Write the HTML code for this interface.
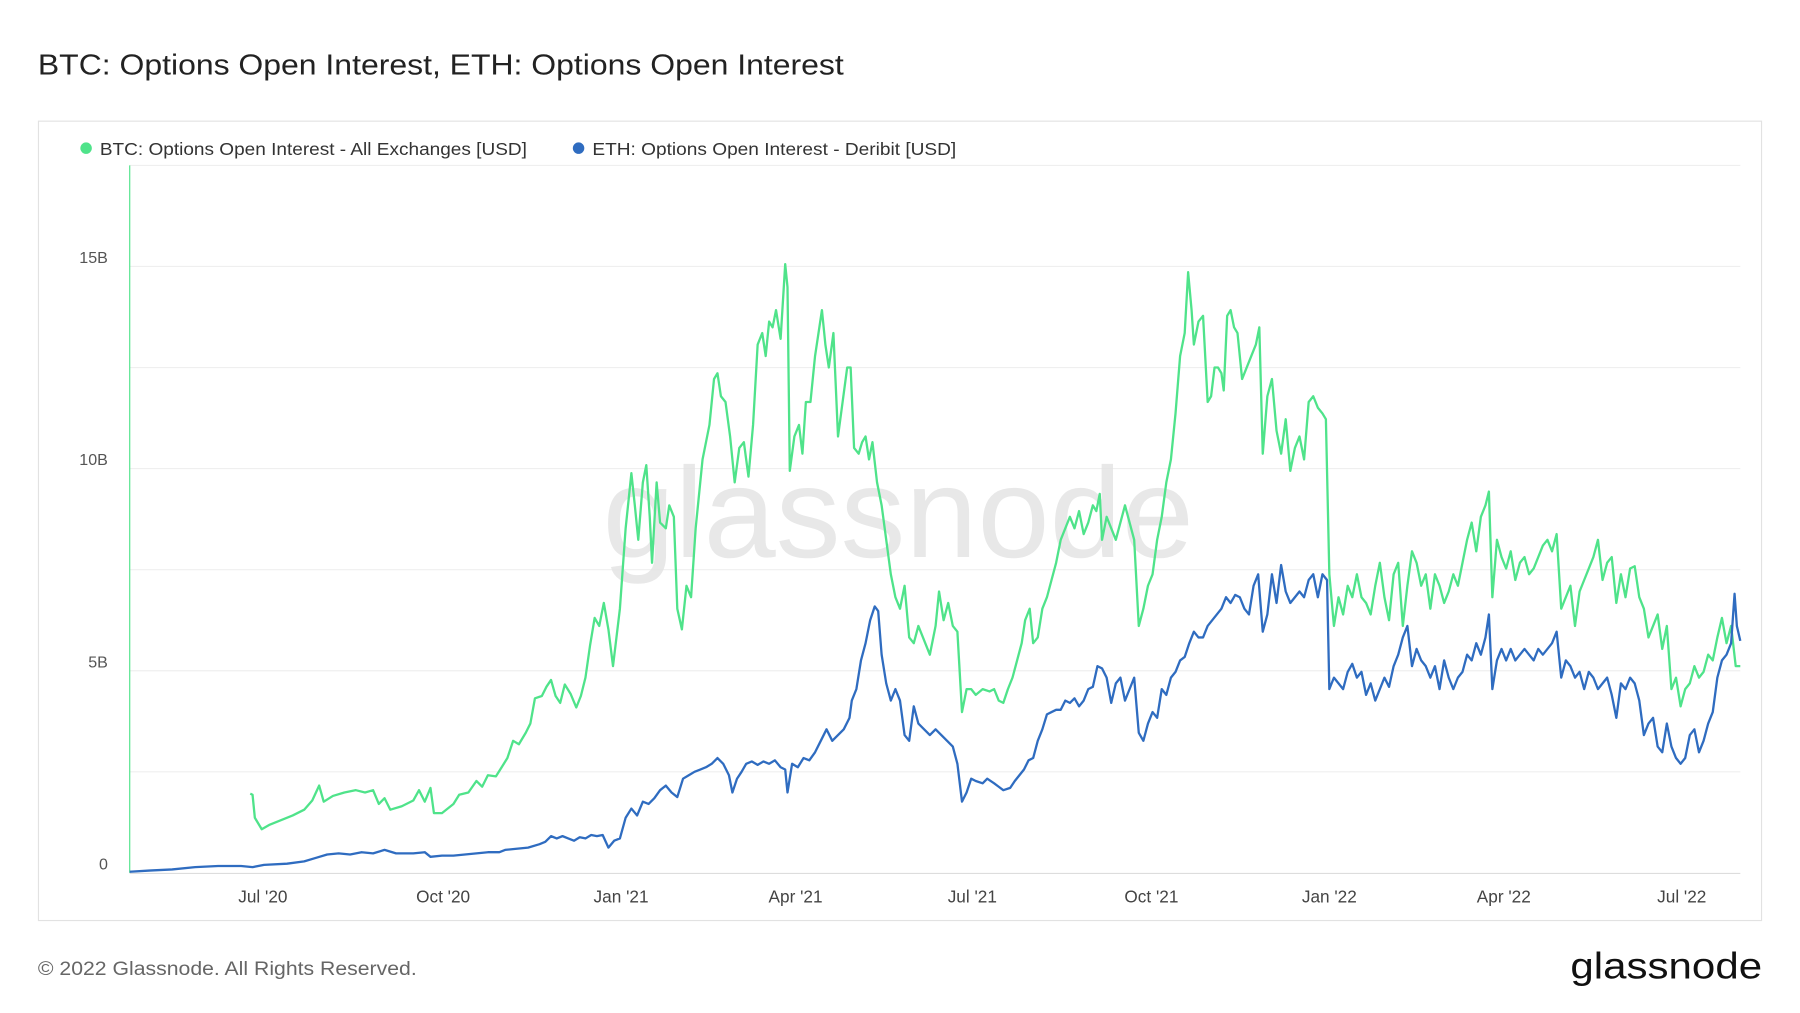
<!DOCTYPE html>
<html><head><meta charset="utf-8"><style>
html,body{margin:0;padding:0;background:#fff;overflow:hidden}
svg{display:block}
text{font-family:"Liberation Sans",sans-serif}
</style></head><body>
<svg width="1800" height="1013" viewBox="0 0 1568 882" preserveAspectRatio="none" xmlns="http://www.w3.org/2000/svg">
<rect width="1568" height="882" fill="#fff"/>
<text x="33" y="65" font-size="25" fill="#222" textLength="702" lengthAdjust="spacingAndGlyphs">BTC: Options Open Interest, ETH: Options Open Interest</text>
<rect x="33.5" y="105.5" width="1501" height="696" fill="#fff" stroke="#e2e2e2"/>
<circle cx="75" cy="129" r="5" fill="#4fe38a"/>
<text x="87" y="135" font-size="15" fill="#333" textLength="372" lengthAdjust="spacingAndGlyphs">BTC: Options Open Interest - All Exchanges [USD]</text>
<circle cx="504" cy="129" r="5" fill="#2f6cc0"/>
<text x="516" y="135" font-size="15" fill="#333" textLength="317" lengthAdjust="spacingAndGlyphs">ETH: Options Open Interest - Deribit [USD]</text>
<g stroke="#efefef" stroke-width="1">
<line x1="113" x2="1516" y1="144" y2="144"/><line x1="113" x2="1516" y1="232" y2="232"/>
<line x1="113" x2="1516" y1="320" y2="320"/><line x1="113" x2="1516" y1="408" y2="408"/>
<line x1="113" x2="1516" y1="496" y2="496"/><line x1="113" x2="1516" y1="584" y2="584"/>
<line x1="113" x2="1516" y1="672" y2="672"/>
</g>
<line x1="113" x2="1516" y1="760.5" y2="760.5" stroke="#ddd"/>
<line x1="113" x2="113" y1="144" y2="760" stroke="#4fe38a" stroke-width="1"/>
<g font-size="14" fill="#555" text-anchor="end">
<text x="94" y="229">15B</text><text x="94" y="405">10B</text><text x="94" y="581">5B</text><text x="94" y="757">0</text>
</g>
<g font-size="15" fill="#444" text-anchor="middle">
<text x="229" y="786">Jul '20</text><text x="386" y="786">Oct '20</text><text x="541" y="786">Jan '21</text>
<text x="693" y="786">Apr '21</text><text x="847" y="786">Jul '21</text><text x="1003" y="786">Oct '21</text>
<text x="1158" y="786">Jan '22</text><text x="1310" y="786">Apr '22</text><text x="1465" y="786">Jul '22</text>
</g>
<text x="525" y="485" font-size="112" fill="#e4e4e4" opacity="0.85" textLength="515" lengthAdjust="spacingAndGlyphs">glassnode</text>
<polyline fill="none" stroke="#4fe38a" stroke-width="2" stroke-linejoin="round" points="218,691 220,692 222,712 228,722 235,718 245,714 255,710 265,705 272,697 278,684 282,698 290,693 300,690 310,688 318,690 325,688 330,700 335,695 340,705 350,702 360,697 365,688 370,698 375,686 378,708 385,708 395,700 400,692 408,690 415,680 420,685 425,675 432,676 437,668 442,660 447,645 452,648 458,638 462,630 466,608 472,606 476,598 480,592 484,606 488,612 492,596 497,604 502,616 506,606 510,590 514,562 518,538 522,545 526,525 530,548 534,580 540,530 545,460 550,412 553,440 556,470 560,420 563,405 566,450 568,490 572,420 575,455 580,460 583,440 587,450 590,530 594,548 598,510 602,520 606,460 612,400 618,370 622,330 625,325 628,345 632,350 636,380 640,420 644,390 648,385 652,415 656,370 660,300 664,290 667,310 670,280 673,285 676,270 680,295 684,230 686,250 688,410 692,380 696,370 699,395 702,350 706,350 710,310 713,290 716,270 719,300 722,320 726,290 730,380 734,350 738,320 741,320 744,390 748,395 751,385 754,380 757,400 760,385 764,420 768,440 772,470 776,500 780,520 784,530 788,510 792,555 796,560 800,545 806,560 810,570 815,545 818,515 822,540 826,525 830,545 834,550 838,620 842,600 846,600 850,605 856,600 862,602 866,600 870,610 874,612 878,600 882,590 886,575 890,560 893,540 897,530 900,560 904,555 908,530 912,520 916,505 920,490 924,470 928,460 932,450 936,460 940,445 944,465 948,455 952,440 955,445 958,430 960,470 964,450 968,460 972,470 976,455 980,440 984,455 988,470 992,545 996,530 1000,510 1004,500 1008,470 1012,450 1016,420 1020,400 1024,360 1028,310 1032,290 1035,237 1038,270 1040,300 1044,280 1048,275 1052,350 1055,345 1058,320 1061,320 1064,325 1066,340 1069,275 1072,270 1075,285 1078,290 1082,330 1086,320 1090,310 1094,300 1097,285 1100,395 1104,345 1108,330 1112,375 1116,395 1120,365 1124,410 1128,390 1132,380 1136,400 1140,350 1144,345 1148,355 1152,360 1155,365 1158,500 1162,545 1166,520 1170,535 1174,510 1178,520 1182,500 1186,520 1190,525 1194,535 1198,510 1202,490 1206,520 1210,540 1214,500 1218,490 1222,545 1226,510 1230,480 1234,490 1238,510 1242,500 1246,530 1250,500 1254,510 1258,525 1262,515 1266,500 1270,510 1274,490 1278,470 1282,455 1286,480 1290,450 1294,440 1297,428 1300,520 1304,470 1308,485 1312,495 1316,480 1320,505 1324,490 1328,485 1332,500 1336,495 1340,485 1344,475 1348,470 1352,480 1356,465 1360,530 1364,520 1368,510 1372,545 1376,515 1380,505 1384,495 1388,485 1392,470 1396,505 1400,490 1404,485 1408,525 1412,500 1416,520 1420,495 1424,493 1428,520 1432,530 1436,555 1440,545 1444,535 1448,565 1452,545 1456,600 1460,590 1464,615 1468,600 1472,595 1476,580 1480,590 1484,585 1488,570 1492,575 1496,555 1500,538 1504,560 1508,545 1512,580 1516,580"/>
<polyline fill="none" stroke="#2f6cc0" stroke-width="2" stroke-linejoin="round" points="113,759 130,758 150,757 170,755 190,754 210,754 220,755 230,753 250,752 265,750 275,747 285,744 295,743 305,744 315,742 325,743 335,740 345,743 360,743 370,742 375,746 385,745 395,745 405,744 415,743 425,742 435,742 440,740 450,739 460,738 470,735 475,733 480,728 485,730 490,728 495,730 500,732 505,729 510,730 515,727 520,728 525,727 530,738 535,732 540,730 545,712 550,704 555,710 560,698 565,700 570,695 575,688 580,684 585,690 590,694 595,678 600,675 605,672 610,670 615,668 620,665 625,660 630,665 635,675 638,690 642,678 646,672 650,665 655,663 660,666 665,663 670,665 675,662 680,668 684,670 686,690 690,665 695,668 700,660 705,662 710,655 715,645 720,635 725,645 730,640 735,635 740,625 742,610 746,600 750,575 754,560 758,540 762,528 765,532 768,570 772,595 776,610 780,600 784,610 788,640 792,645 796,615 800,630 805,635 810,640 815,635 820,640 825,645 830,650 834,665 838,698 842,690 846,678 850,680 856,682 860,678 866,682 870,685 874,688 880,686 884,680 888,675 892,670 896,662 900,660 904,645 908,635 912,622 916,620 920,618 924,618 928,610 932,612 936,608 940,615 944,610 948,600 952,598 956,580 960,582 964,590 968,612 972,595 976,590 980,610 984,600 988,590 992,638 996,645 1000,630 1004,620 1008,625 1012,600 1016,605 1020,590 1024,585 1028,575 1032,572 1036,560 1040,550 1044,555 1048,555 1052,545 1056,540 1060,535 1064,530 1068,520 1072,525 1076,518 1080,520 1084,530 1088,535 1092,510 1096,500 1100,550 1104,535 1108,500 1112,525 1116,492 1120,515 1124,525 1128,520 1132,515 1136,520 1140,505 1144,500 1148,520 1152,500 1156,505 1158,600 1162,590 1166,595 1170,600 1174,585 1178,578 1182,590 1186,585 1190,605 1194,595 1198,610 1202,600 1206,590 1210,598 1214,580 1218,570 1222,555 1226,545 1230,580 1234,565 1238,575 1242,580 1246,590 1250,580 1254,600 1258,575 1262,590 1266,600 1270,590 1274,585 1278,570 1282,575 1286,560 1290,570 1294,555 1297,535 1300,600 1304,575 1308,565 1312,575 1316,565 1320,575 1324,570 1328,565 1332,570 1336,575 1340,565 1344,570 1348,565 1352,560 1356,550 1360,590 1364,575 1368,580 1372,590 1376,585 1380,600 1384,585 1388,590 1392,600 1396,595 1400,590 1404,605 1408,625 1412,595 1416,600 1420,590 1424,595 1428,610 1432,640 1436,630 1440,625 1444,650 1448,655 1452,630 1456,650 1460,660 1464,665 1468,660 1472,640 1476,635 1480,655 1484,645 1488,630 1492,620 1496,590 1500,575 1504,570 1508,560 1511,517 1513,545 1516,558"/>
<text x="33" y="849" font-size="17" fill="#666" textLength="330" lengthAdjust="spacingAndGlyphs">© 2022 Glassnode. All Rights Reserved.</text>
<text x="1368" y="852" font-size="32" fill="#111" textLength="167" lengthAdjust="spacingAndGlyphs">glassnode</text>
</svg>
</body></html>
